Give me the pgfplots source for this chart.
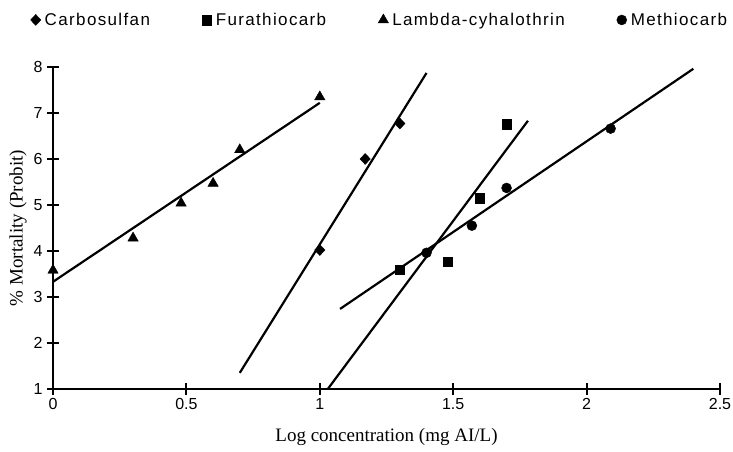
\documentclass[border=0pt]{standalone}
\usepackage{fontspec}
\setmainfont{Liberation Serif}
\setsansfont{Liberation Sans}
\usepackage{pgfplots}
\pgfplotsset{compat=1.18}
\begin{document}
\begin{tikzpicture}
\begin{axis}[
  width=667bp, height=322bp, scale only axis,
  xmin=0, xmax=2.5, ymin=1, ymax=8,
  axis x line=bottom, axis y line=left,
  axis line style={-, line width=2.4bp, black},
  xtick={0,0.5,1,1.5,2,2.5}, ytick={1,2,3,4,5,6,7,8},
  tick align=center, major tick length=12bp,
  tick style={line width=2bp, black},
  /pgf/number format/assume math mode=true,
  ticklabel style={font=\sffamily\fontsize{16bp}{18bp}\selectfont},
  yticklabel style={xshift=-1bp},
  xlabel={Log concentration (mg AI/L)},
  ylabel={\% Mortality (Probit)},
  label style={font=\fontsize{19bp}{22bp}\selectfont},
  xlabel style={at={(rel axis cs:0.5,-0.149)}, anchor=center},
  ylabel style={at={(rel axis cs:-0.0525,0.5)}, anchor=center},
  clip=false,
  legend columns=4,
  legend style={draw=none, fill=none, at={(rel axis cs:0.49,1.146)}, anchor=center,
    font=\sffamily\fontsize{17bp}{20bp}\selectfont\addfontfeatures{LetterSpace=8},
    /tikz/every even column/.append style={column sep=50bp}},
  legend image code/.code={\path[draw=none] (0bp,0bp) -- (7bp,0bp);\draw[#1] plot coordinates {(0bp,0bp)};},
  every axis plot/.append style={black},
]
% measured points
\addplot[only marks, mark=diamond*, mark size=5.5bp, mark options={xscale=1.25}]
  coordinates {(1.0,4.02)(1.17,6.0)(1.30,6.77)};
\addlegendentry{Carbosulfan}
\addplot[only marks, mark=square*, mark size=4.8bp]
  coordinates {(1.30,3.59)(1.48,3.77)(1.60,5.15)(1.70,6.76)};
\addlegendentry{Furathiocarb}
\addplot[only marks, mark=triangle*, mark size=6bp]
  coordinates {(0,3.58)(0.30,4.28)(0.48,5.04)(0.60,5.47)(0.70,6.20)(1.0,7.35)};
\addlegendentry{Lambda-cyhalothrin}
\addplot[only marks, mark=*, mark size=5bp]
  coordinates {(1.40,3.96)(1.57,4.55)(1.70,5.37)(2.09,6.66)};
\addlegendentry{Methiocarb}
% fitted lines
\addplot[forget plot, no marks, line width=2.2bp] coordinates {(0,3.33)(1,7.22)};
\addplot[forget plot, no marks, line width=2.2bp] coordinates {(0.70,1.35)(1.40,7.87)};
\addplot[forget plot, no marks, line width=2.2bp] coordinates {(1.03,1.0)(1.78,6.83)};
\addplot[forget plot, no marks, line width=2.2bp] coordinates {(1.076,2.74)(2.40,7.96)};
\coordinate (bl) at (rel axis cs:-0.0795,-0.1957);
\coordinate (tr) at (rel axis cs:1.0195,1.208);
\end{axis}
\pgfresetboundingbox
\path[use as bounding box] (bl) rectangle (tr);
\end{tikzpicture}
\end{document}
